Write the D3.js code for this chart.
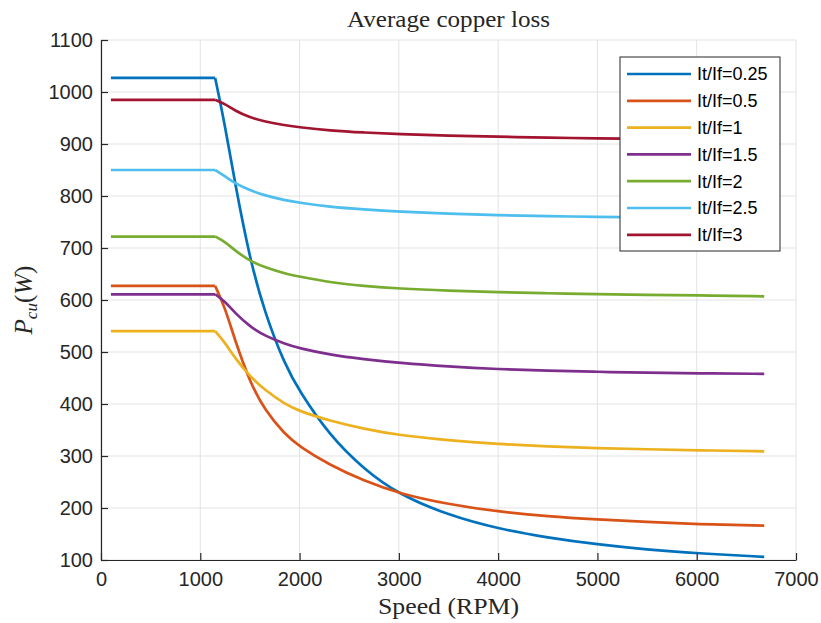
<!DOCTYPE html>
<html>
<head>
<meta charset="utf-8">
<script src="https://cdn.jsdelivr.net/npm/d3@7"></script>
<style>
  body { margin: 0; background: #fff; }
  svg { display: block; }
  .tick text { font-family: "Liberation Sans", Arial, sans-serif; font-size: 20px; fill: #262626; }
  .serif { font-family: "Liberation Serif", "DejaVu Serif", serif; fill: #262626; }
</style>
</head>
<body>
<div id="chart"></div>
<script>
// speed samples (RPM) shared by all curves
var speeds = [100, 1150, 1250, 1350, 1500, 1650, 1850, 2000, 2300, 2650, 3000, 3500, 4000, 4500, 5000, 5500, 6000, 6680];

// copper loss (W) per current ratio
var loss025 = [1027, 1027, 935, 824, 678, 575, 476, 424, 340, 274, 226, 186, 160, 143, 130, 120, 113, 106];
var loss05  = [627, 627, 585, 522, 442, 388, 342, 318, 283, 252, 228, 207, 193, 184, 178, 173, 169, 166];
var loss1   = [540, 540, 518, 488, 453, 427, 400, 386, 368, 352, 340, 330, 323, 318, 315, 313, 311, 309];
var loss15  = [611, 611, 597, 575, 549, 531, 516, 507, 495, 486, 479, 472, 467, 464, 462, 460, 459, 458];
var loss2   = [722, 722, 712, 695, 675, 663, 651, 645, 634, 627, 622, 618, 615, 613, 611, 610, 609, 607];
var loss25  = [850, 850, 838, 824, 811, 801, 792, 787, 779, 774, 770, 766, 763, 761, 760, 759, 758, 757];
var loss3   = [985, 985, 977, 964, 951, 943, 936, 932, 926, 922, 919, 916, 914, 912, 911, 910, 909, 908];

var seriesNames = ["It/If=0.25", "It/If=0.5", "It/If=1", "It/If=1.5", "It/If=2", "It/If=2.5", "It/If=3"];
var seriesValues = [loss025, loss05, loss1, loss15, loss2, loss25, loss3];
var seriesColors = ["#0072BD", "#D95319", "#EDB120", "#7E2F8E", "#77AC30", "#4DBEEE", "#A2142F"];

var xTicks = [0, 1000, 2000, 3000, 4000, 5000, 6000, 7000];
var yTicks = [100, 200, 300, 400, 500, 600, 700, 800, 900, 1000, 1100];

var width = 821, height = 623;
var margin = { left: 101, right: 25, top: 40, bottom: 63 };

var svg = d3.select("#chart").append("svg")
    .attr("width", width)
    .attr("height", height);

var x = d3.scaleLinear().domain([0, 7000]).range([margin.left, width - margin.right]);
var y = d3.scaleLinear().domain([100, 1100]).range([height - margin.bottom, margin.top]);

// grid
var grid = svg.append("g").attr("class", "grid");
grid.selectAll("line.gx").data(xTicks).enter().append("line")
    .attr("x1", function(d) { return x(d); })
    .attr("x2", function(d) { return x(d); })
    .attr("y1", y(100)).attr("y2", y(1100))
    .attr("stroke", "#e3e3e3").attr("stroke-width", 1);
grid.selectAll("line.gy").data(yTicks).enter().append("line")
    .attr("y1", function(d) { return y(d); })
    .attr("y2", function(d) { return y(d); })
    .attr("x1", x(0)).attr("x2", x(7000))
    .attr("stroke", "#e3e3e3").attr("stroke-width", 1);

// curves: flat part straight, then a smooth fall from the corner speed
var flat = d3.line()
    .x(function(d) { return x(d[0]); })
    .y(function(d) { return y(d[1]); });
var fall = d3.line()
    .curve(d3.curveBasis)
    .x(function(d) { return x(d[0]); })
    .y(function(d) { return y(d[1]); });

var curves = svg.append("g").attr("class", "curves");
seriesValues.forEach(function(vals, i) {
    var pts = speeds.map(function(s, j) { return [s, vals[j]]; });
    curves.append("path")
        .attr("d", flat(pts.slice(0, 2)))
        .attr("fill", "none")
        .attr("stroke", seriesColors[i])
        .attr("stroke-width", 2.7);
    curves.append("path")
        .attr("d", fall(pts.slice(1)))
        .attr("fill", "none")
        .attr("stroke", seriesColors[i])
        .attr("stroke-width", 2.7)
        .attr("stroke-linejoin", "round");
});

// axes
var fmt = d3.format("d");
var xAxis = svg.append("g")
    .attr("transform", "translate(0," + y(100) + ")")
    .call(d3.axisBottom(x).tickValues(xTicks).tickFormat(fmt).tickSizeInner(-7).tickSizeOuter(0).tickPadding(10));
var yAxis = svg.append("g")
    .attr("transform", "translate(" + x(0) + ",0)")
    .call(d3.axisLeft(y).tickValues(yTicks).tickFormat(fmt).tickSizeInner(-7).tickSizeOuter(0).tickPadding(8));
[xAxis, yAxis].forEach(function(a) {
    a.select(".domain").attr("stroke", "#262626").attr("stroke-width", 1.2);
    a.selectAll(".tick line").attr("stroke", "#262626").attr("stroke-width", 1.2);
});
xAxis.selectAll(".tick text").attr("dy", "0.8em");

// title and axis labels
svg.append("text")
    .attr("class", "serif")
    .attr("x", (x(0) + x(7000)) / 2)
    .attr("y", 27)
    .attr("text-anchor", "middle")
    .style("font-size", "23px")
    .attr("textLength", 203)
    .attr("lengthAdjust", "spacingAndGlyphs")
    .text("Average copper loss");

svg.append("text")
    .attr("class", "serif")
    .attr("x", (x(0) + x(7000)) / 2)
    .attr("y", 614)
    .attr("text-anchor", "middle")
    .style("font-size", "23px")
    .attr("textLength", 141)
    .attr("lengthAdjust", "spacingAndGlyphs")
    .text("Speed (RPM)");

var ylab = svg.append("text")
    .attr("class", "serif")
    .attr("transform", "translate(32," + ((y(100) + y(1100)) / 2) + ") rotate(-90)")
    .attr("text-anchor", "middle")
    .style("font-size", "25px");
ylab.append("tspan").style("font-style", "italic").text("P");
ylab.append("tspan").style("font-style", "italic").style("font-size", "17px").attr("dy", 5).text("cu");
ylab.append("tspan").attr("dy", -5).text("(");
ylab.append("tspan").style("font-style", "italic").text("W");
ylab.append("tspan").text(")");

// legend
var legend = svg.append("g").attr("transform", "translate(620,57)");
legend.append("rect")
    .attr("width", 160).attr("height", 194)
    .attr("fill", "#fff")
    .attr("stroke", "#262626").attr("stroke-width", 1);
var row = legend.selectAll("g.row").data(seriesNames).enter().append("g")
    .attr("class", "row")
    .attr("transform", function(d, i) { return "translate(0," + (17 + i * 26.8) + ")"; });
row.append("line")
    .attr("x1", 7).attr("x2", 71)
    .attr("stroke", function(d, i) { return seriesColors[i]; })
    .attr("stroke-width", 2.7);
row.append("text")
    .attr("x", 77).attr("dy", "0.35em")
    .style("font-family", "'Liberation Sans', Arial, sans-serif")
    .style("font-size", "18px")
    .attr("fill", "#000")
    .text(function(d) { return d; });
</script>
</body>
</html>
